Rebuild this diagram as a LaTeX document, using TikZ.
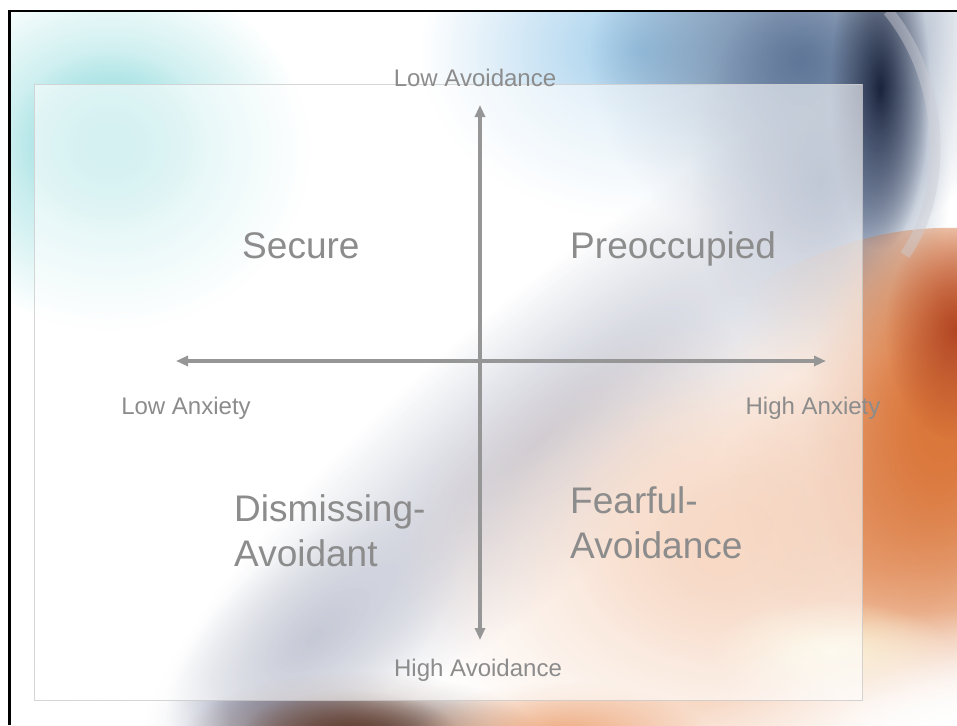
\documentclass[tikz,border=0pt]{standalone}
\usepackage{fontspec}
\setmainfont{Liberation Sans}
\usepackage{tikz}
\usetikzlibrary{positioning,arrows.meta,fadings}

\definecolor{labelgray}{RGB}{140,140,140}
\definecolor{axisgray}{RGB}{150,150,150}
\definecolor{tealhaze}{RGB}{150,220,222}
\definecolor{skyhaze}{RGB}{160,205,235}
\definecolor{steelhaze}{RGB}{95,118,152}
\definecolor{navyhaze}{RGB}{25,35,60}
\definecolor{bandhaze}{RGB}{112,120,152}
\definecolor{brownhaze}{RGB}{95,62,50}
\definecolor{peachhaze}{RGB}{235,160,112}
\definecolor{orangehaze}{RGB}{218,118,58}
\definecolor{redhaze}{RGB}{178,70,35}
\definecolor{glosshaze}{RGB}{205,205,212}
\definecolor{creamhaze}{RGB}{250,240,205}

\tikzfading[name=soft, inner color=transparent!0, outer color=transparent!100]

\begin{document}
\begin{tikzpicture}[
  x=0.03cm, y=-0.03cm,
  haze/.style={fill=#1, path fading=soft},
  panel/.style={fill=white, fill opacity=0.6, draw=gray!40, draw opacity=0.8, line width=0.6pt},
  axis/.style={draw=axisgray, line width=2.6pt, {Triangle[length=0.36cm,width=0.3cm]}-{Triangle[length=0.36cm,width=0.3cm]}},
  pole/.style={text=labelgray, font=\fontsize{20.5}{24}\selectfont, inner sep=0pt, anchor=base},
  quad/.style={text=labelgray, font=\fontsize{31.6}{37.6}\selectfont, inner sep=0pt, anchor=base west, align=left}
]
\useasboundingbox (0,0) rectangle (957,725);

% Background
\begin{scope}
  \clip (9,11) rectangle (957,725);
  \fill[haze=tealhaze] (110,150) ellipse [x radius=200, y radius=180];
  \fill[haze=tealhaze] (110,140) ellipse [x radius=100, y radius=90];
  \fill[haze=skyhaze] (640,50) ellipse [x radius=220, y radius=170];
  \fill[haze=steelhaze] (800,60) ellipse [x radius=210, y radius=200];
  \fill[haze=steelhaze] (820,180) ellipse [x radius=130, y radius=200];
  \fill[haze=navyhaze] (880,90) ellipse [x radius=50, y radius=160];
  \begin{scope}[transform canvas={shift={(540,440)}, rotate=41}]
    \fill[haze=bandhaze] (0,0) ellipse [x radius=520, y radius=130];
    \fill[haze=bandhaze] (-300,0) ellipse [x radius=180, y radius=90];
  \end{scope}
  \fill[haze=brownhaze] (360,740) ellipse [x radius=180, y radius=70];
  \fill[haze=brownhaze] (350,735) ellipse [x radius=110, y radius=45];
  \fill[haze=white] (1010,110) ellipse [x radius=90, y radius=170];
  \fill[haze=peachhaze] (720,560) ellipse [x radius=320, y radius=240];
  \fill[haze=peachhaze] (740,520) ellipse [x radius=180, y radius=150];
  \fill[haze=peachhaze] (560,740) ellipse [x radius=150, y radius=60];
  \begin{scope}
    \clip (700,320) .. controls (800,250) and (880,226) .. (957,228) -- (957,725) -- (700,725) -- cycle;
    \fill[haze=orangehaze] (945,430) ellipse [x radius=220, y radius=300];
    \fill[haze=orangehaze] (935,420) ellipse [x radius=130, y radius=220];
    \fill[haze=redhaze] (955,330) ellipse [x radius=70, y radius=110];
  \end{scope}
  \fill[haze=creamhaze] (830,650) ellipse [x radius=120, y radius=50];
  \fill[haze=white] (960,730) ellipse [x radius=260, y radius=120];
  \fill[haze=white] (980,760) ellipse [x radius=160, y radius=110];
  \fill[haze=white] (60,725) ellipse [x radius=170, y radius=90];
  \draw[glosshaze, line width=9pt, opacity=0.45] (888,11) .. controls (945,80) and (950,190) .. (905,255);
\end{scope}

% Frame and panel
\draw[black, line width=1.9pt] (9.5,725) -- (9.5,11) -- (957,11);
\path[panel] (34,84) rectangle (862,700);

% Axes
\coordinate (xl) at (176,361);
\coordinate (xr) at (826,361);
\coordinate (yt) at (480,105);
\coordinate (yb) at (480,640);
\draw[axis] (xl) -- (xr);
\draw[axis] (yt) -- (yb);

% Pole labels
\node[pole] (lowav) at (475,86) {Low Avoidance};
\node[pole] (highav) at (478,676) {High Avoidance};
\node[pole] (lowanx) at (186,414) {Low Anxiety};
\node[pole] (highanx) at (813,414) {High Anxiety};

% Quadrant labels
\node[quad] (secure) at (242,258) {Secure};
\node[quad] (preocc) at (570,258) {Preoccupied};
\node[quad] (dismiss) at (234,566) {Dismissing-\\Avoidant};
\node[quad] (fearful) at (570,558) {Fearful-\\Avoidance};

\end{tikzpicture}
\end{document}
